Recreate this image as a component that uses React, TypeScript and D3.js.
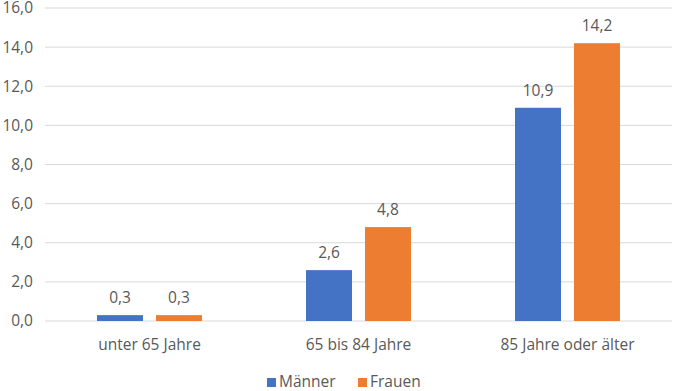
import React from 'react';
import * as d3 from 'd3';

const categories = ['unter 65 Jahre', '65 bis 84 Jahre', '85 Jahre oder älter'];
const seriesNames = ['Männer', 'Frauen'];
const maenner = [0.3, 2.6, 10.9];
const frauen = [0.3, 4.8, 14.2];
const yTicks = [0, 2, 4, 6, 8, 10, 12, 14, 16];

const colors = ['#4472C4', '#ED7D31'];
const fmt = (v: number) => v.toFixed(1).replace('.', ',');

const App: React.FC = () => {
  const width = 673;
  const height = 391;
  const margin = { top: 8, right: 1, bottom: 70, left: 45 };
  const font = '"Open Sans", "Liberation Sans", sans-serif';
  const fs = 15.5;

  const y = d3.scaleLinear().domain([0, 16]).range([height - margin.bottom, margin.top]);
  const x0 = d3.scaleBand<string>().domain(categories).range([margin.left, width - margin.right]);
  const groupW = 105;
  const x1 = d3.scaleBand<string>().domain(seriesNames).range([0, groupW]).paddingInner(0.22);

  const values = [maenner, frauen];

  return (
    <div style={{ position: 'fixed', left: 0, top: 0, width, height }}>
      <svg width={width} height={height} style={{ display: 'block', background: '#fff' }}>
        {/* gridlines + y labels */}
        {yTicks.map(t => (
          <g key={t}>
            <line x1={margin.left} x2={width - margin.right} y1={y(t)} y2={y(t)} stroke="#D9D9D9" strokeWidth={1} />
            <text x={33} y={y(t)} dy="0.35em" textAnchor="end" fontFamily={font} fontSize={fs} fill="#595959">
              {fmt(t)}
            </text>
          </g>
        ))}

        {/* bars */}
        {categories.map((c, i) => {
          const gx = (x0(c) ?? 0) + (x0.bandwidth() - groupW) / 2;
          return (
            <g key={c} transform={`translate(${gx},0)`}>
              {seriesNames.map((s, j) => {
                const v = values[j][i];
                const bx = x1(s) ?? 0;
                return (
                  <g key={s}>
                    <rect x={bx} y={y(v)} width={x1.bandwidth()} height={y(0) - y(v)} fill={colors[j]} />
                    <text x={bx + x1.bandwidth() / 2} y={y(v) - 12} textAnchor="middle" fontFamily={font} fontSize={fs} fill="#595959">
                      {fmt(v)}
                    </text>
                  </g>
                );
              })}
              <text x={groupW / 2} y={350} textAnchor="middle" fontFamily={font} fontSize={fs} fill="#595959">
                {c}
              </text>
            </g>
          );
        })}

        {/* legend */}
        {seriesNames.map((s, j) => {
          const lx = j === 0 ? 267 : 358;
          return (
            <g key={s} transform={`translate(${lx},382)`}>
              <rect x={0} y={-4} width={9} height={9} fill={colors[j]} />
              <text x={12} y={0} dy="0.35em" fontFamily={font} fontSize={fs} fill="#595959">{s}</text>
            </g>
          );
        })}
      </svg>
    </div>
  );
};

export default App;
